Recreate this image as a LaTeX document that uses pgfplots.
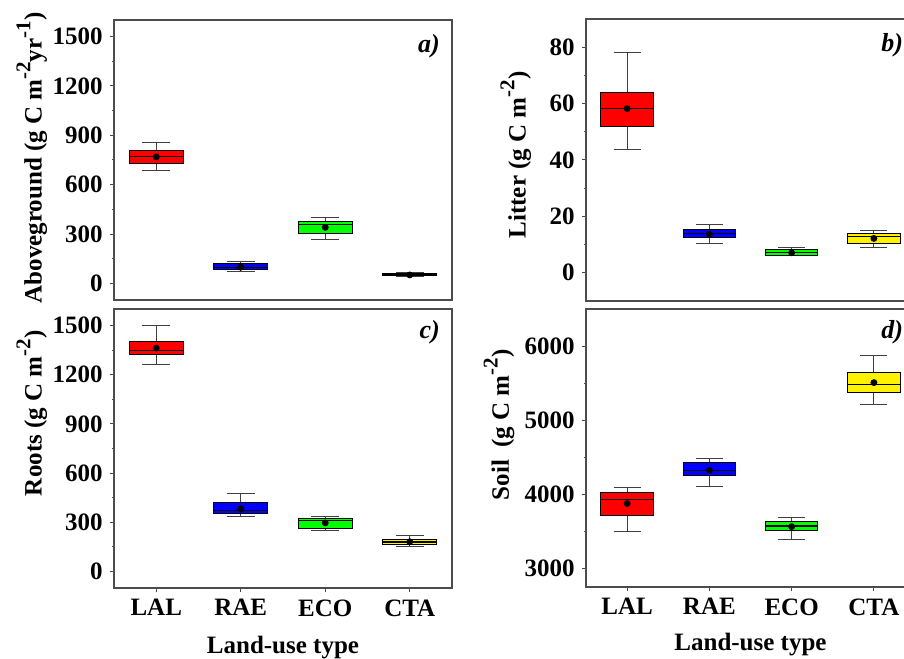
\documentclass[border=0pt]{standalone}
\usepackage{fontspec}
\setmainfont{Liberation Serif}
\usepackage{pgfplots}
\pgfplotsset{compat=1.18}
\usepgfplotslibrary{statistics}

\newcommand{\sups}[1]{\raisebox{0.45em}{\fontsize{10.5}{12}\selectfont #1}}

\pgfplotsset{
  panel/.style={
    scale only axis, anchor=south west,
    xmin=0.5, xmax=4.5,
    axis line style={draw=black!70, line width=0.6pt},
    tick style={black!70, line width=0.5pt},
    tick align=outside, ytick pos=left, xtick pos=bottom,
    major tick length=2.2pt, minor tick length=1.2pt,
    minor y tick num=1,
    tick label style={font=\fontsize{12.5}{14}\selectfont\bfseries},
    label style={font=\fontsize{12.5}{14}\selectfont\bfseries},
    /pgf/number format/assume math mode=true,
    /pgf/number format/1000 sep={},
    ylabel style={anchor=center},
    boxplot/draw direction=y,
    boxplot/box extend=0.64,
    boxplot/whisker extend=0.33,
    boxplot/every whisker/.style={black!75, line width=0.5pt},
    boxplot/every median/.style={black, line width=0.6pt},
  },
  bx/.style={draw=black, line width=0.5pt, fill=#1},
  mean/.style={only marks, mark=*, mark size=1.5pt, black},
}
\tikzset{lab/.style={anchor=east, font=\fontsize{13}{15}\selectfont\bfseries\itshape}}

\begin{document}
\begin{tikzpicture}
\useasboundingbox (0,0) rectangle (452pt,329pt);
\clip (0,0) rectangle (452pt,329pt);

% a) Aboveground
\begin{axis}[panel, at={(57pt,179pt)}, width=169pt, height=140pt,
  ymin=-100, ymax=1600, ytick={0,300,...,1500}, xtick=\empty,
  ylabel={Aboveground (g C m\sups{-2}yr\sups{-1})},
  ylabel style={at={(axis description cs:-0.243,0.507)}}]
\addplot[bx=red, boxplot prepared={draw position=1, lower whisker=688, lower quartile=729, median=773, upper quartile=806, upper whisker=856}] coordinates {};
\addplot[bx=blue, boxplot prepared={draw position=2, lower whisker=73, lower quartile=85, median=99, upper quartile=120, upper whisker=136}] coordinates {};
\addplot[bx=green, boxplot prepared={draw position=3, lower whisker=268, lower quartile=306, median=359, upper quartile=375, upper whisker=402}] coordinates {};
\addplot[bx=yellow, boxplot prepared={draw position=4, lower whisker=44, lower quartile=48, median=53, upper quartile=58, upper whisker=64}] coordinates {};
\addplot[mean] coordinates {(1,769) (2,99) (3,341) (4,52)};
\node[lab] at (rel axis cs:0.985,0.907) {a)};
\end{axis}

% b) Litter
\begin{axis}[panel, at={(293pt,178.5pt)}, width=164.5pt, height=141pt,
  ymin=-10, ymax=90, ytick={0,20,...,80}, xtick=\empty,
  ylabel={Litter (g C m\sups{-2})},
  ylabel style={at={(axis description cs:-0.213,0.518)}}]
\addplot[bx=red, boxplot prepared={draw position=1, lower whisker=43.7, lower quartile=51.7, median=58.3, upper quartile=63.8, upper whisker=78.2}] coordinates {};
\addplot[bx=blue, boxplot prepared={draw position=2, lower whisker=10.3, lower quartile=12.5, median=14.0, upper quartile=15.4, upper whisker=17.3}] coordinates {};
\addplot[bx=green, boxplot prepared={draw position=3, lower whisker=6.0, lower quartile=6.3, median=7.2, upper quartile=8.2, upper whisker=8.8}] coordinates {};
\addplot[bx=yellow, boxplot prepared={draw position=4, lower whisker=9.0, lower quartile=10.4, median=12.9, upper quartile=13.8, upper whisker=15.1}] coordinates {};
\addplot[mean] coordinates {(1,58.2) (2,13.7) (3,7.1) (4,12.2)};
\node[lab] at (rel axis cs:0.985,0.907) {b)};
\end{axis}

% c) Roots
\begin{axis}[panel, at={(57pt,35pt)}, width=169pt, height=139.5pt,
  ymin=-100, ymax=1600, ytick={0,300,...,1500},
  xtick={1,2,3,4}, xticklabels={LAL,RAE,ECO,CTA},
  xlabel={Land-use type},
  xlabel style={at={(axis description cs:0.5,-0.214)}, anchor=center},
  ylabel={Roots (g C m\sups{-2})},
  ylabel style={at={(axis description cs:-0.243,0.626)}}]
\addplot[bx=red, boxplot prepared={draw position=1, lower whisker=1261, lower quartile=1322, median=1348, upper quartile=1401, upper whisker=1500}] coordinates {};
\addplot[bx=blue, boxplot prepared={draw position=2, lower whisker=334, lower quartile=352, median=370, upper quartile=420, upper whisker=477}] coordinates {};
\addplot[bx=green, boxplot prepared={draw position=3, lower whisker=251, lower quartile=265, median=309, upper quartile=325, upper whisker=338}] coordinates {};
\addplot[bx=yellow, boxplot prepared={draw position=4, lower whisker=154, lower quartile=164, median=180, upper quartile=196, upper whisker=218}] coordinates {};
\addplot[mean] coordinates {(1,1362) (2,382) (3,297) (4,182)};
\node[lab] at (rel axis cs:0.985,0.918) {c)};
\end{axis}

% d) Soil
\begin{axis}[panel, at={(293pt,35.5pt)}, width=164.5pt, height=139pt,
  ymin=2750, ymax=6500, ytick={3000,4000,...,6000},
  xtick={1,2,3,4}, xticklabels={LAL,RAE,ECO,CTA},
  xlabel={Land-use type},
  xlabel style={at={(axis description cs:0.5,-0.207)}, anchor=center},
  ylabel={Soil\ \ (g C m\sups{-2})},
  ylabel style={at={(axis description cs:-0.264,0.583)}}]
\addplot[bx=red, boxplot prepared={draw position=1, lower whisker=3502, lower quartile=3720, median=3933, upper quartile=4022, upper whisker=4089}] coordinates {};
\addplot[bx=blue, boxplot prepared={draw position=2, lower whisker=4107, lower quartile=4253, median=4320, upper quartile=4431, upper whisker=4484}] coordinates {};
\addplot[bx=green, boxplot prepared={draw position=3, lower whisker=3396, lower quartile=3516, median=3573, upper quartile=3636, upper whisker=3689}] coordinates {};
\addplot[bx=yellow, boxplot prepared={draw position=4, lower whisker=5213, lower quartile=5373, median=5480, upper quartile=5644, upper whisker=5867}] coordinates {};
\addplot[mean] coordinates {(1,3876) (2,4324) (3,3564) (4,5507)};
\node[lab] at (rel axis cs:0.985,0.918) {d)};
\end{axis}
\end{tikzpicture}
\end{document}
